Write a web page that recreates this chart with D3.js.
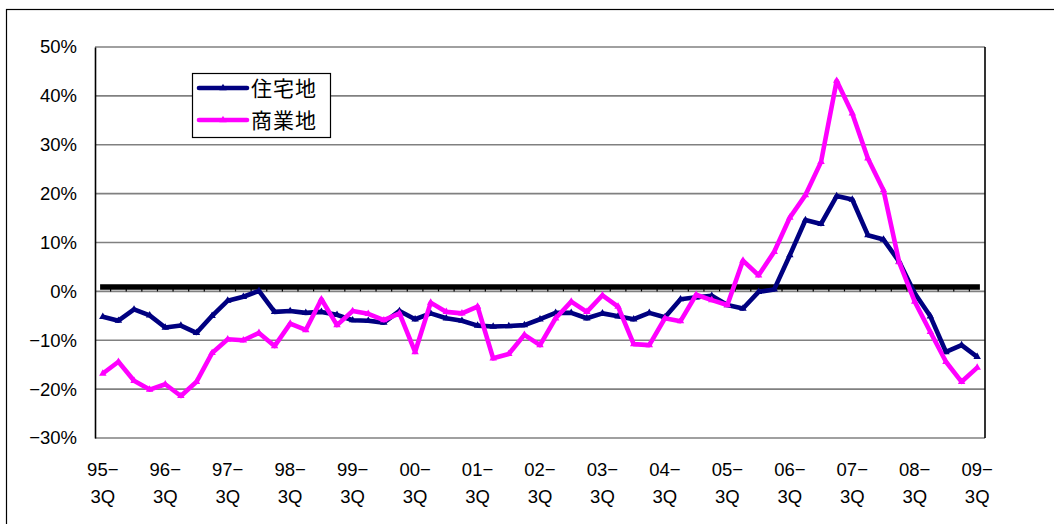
<!DOCTYPE html>
<html><head><meta charset="utf-8">
<script src="https://cdn.jsdelivr.net/npm/d3@7"></script>
<style>
html,body{margin:0;padding:0;background:#fff;}
svg text{font-family:"Liberation Sans",Arial,sans-serif;}
</style></head>
<body>
<svg id="chart" width="1054" height="524"></svg>
<script>
const years = ["95","96","97","98","99","00","01","02","03","04","05","06","07","08","09"];
const quarters = ["3Q","4Q","1Q","2Q"];
// categories 95-3Q ... 09-3Q (57 quarters)
const categories = [];
for (let y = 0; y < years.length; y++) {
  for (let q = 0; q < 4; q++) {
    if (y === years.length - 1 && q > 0) break;
    categories.push(years[y] + "-" + quarters[q]);
  }
}
const residential = [-5.2,-6.0,-3.7,-4.9,-7.4,-7.0,-8.5,-5.0,-1.9,-1.1,0.1,-4.2,-4.0,-4.4,-4.2,-4.8,-5.9,-6.0,-6.4,-4.0,-5.7,-4.5,-5.5,-6.0,-7.0,-7.2,-7.1,-6.9,-5.7,-4.4,-4.4,-5.5,-4.5,-5.1,-5.7,-4.4,-5.3,-1.6,-1.2,-0.9,-2.8,-3.5,-0.1,0.4,7.4,14.6,13.8,19.5,18.8,11.5,10.6,6.1,-0.4,-5.1,-12.4,-11.0,-13.4];
const commercial = [-16.8,-14.4,-18.3,-20.1,-19.0,-21.4,-18.5,-12.6,-9.8,-10.0,-8.5,-11.2,-6.6,-7.9,-1.6,-6.9,-4.0,-4.6,-5.9,-4.5,-12.4,-2.3,-4.2,-4.5,-3.1,-13.7,-12.8,-8.9,-11.0,-5.5,-2.1,-4.2,-0.8,-3.1,-10.8,-11.0,-5.5,-6.1,-0.7,-1.8,-2.8,6.3,3.3,8.1,15.1,19.7,26.5,43.1,36.4,27.2,20.7,6.0,-2.1,-8.3,-14.4,-18.5,-15.6];
const refLine = categories.map(() => 0.9);
const yTicks = [-30,-20,-10,0,10,20,30,40,50];
const seriesNames = ["住宅地","商業地"];
const colors = ["#000080","#ff00ff"];

const svg = d3.select("#chart");
const L = 95, R = 985, T = 47, B = 438;

// outer border
svg.append("rect").attr("x",6.5).attr("y",9.5).attr("width",1100).attr("height",600)
  .attr("fill","none").attr("stroke","#000").attr("stroke-width",1.2);

const x = d3.scaleBand().domain(categories).range([L, R]).padding(0);
const y = d3.scaleLinear().domain([-30, 50]).range([B, T]);
const cx = d => x(d) + x.bandwidth()/2;

// gridlines
svg.append("g").selectAll("line").data(yTicks).join("line")
  .attr("x1", L).attr("x2", R).attr("y1", d => y(d)).attr("y2", d => y(d))
  .attr("stroke", "#808080").attr("stroke-width", 1.6);

// y axis
const yAxis = d3.axisLeft(y).tickValues(yTicks).tickSize(0).tickPadding(18)
  .tickFormat(d => (d < 0 ? "\u2212" + Math.abs(d) : d) + "%");
const gy = svg.append("g").attr("transform", `translate(${L},0)`).call(yAxis);
gy.select(".domain").attr("stroke", "#000").attr("stroke-width", 1.6);
gy.selectAll("text").attr("font-size", 18.5).attr("fill", "#000")
  .attr("font-family", "'Liberation Sans', Arial, sans-serif");

// right border
svg.append("line").attr("x1", R).attr("x2", R).attr("y1", T).attr("y2", B)
  .attr("stroke", "#000").attr("stroke-width", 1.6);

// category ticks on zero line
const bounds = categories.slice(1).map(c => x(c));
svg.append("g").selectAll("line").data(bounds).join("line")
  .attr("x1", d => d).attr("x2", d => d).attr("y1", y(0)).attr("y2", y(0) - 3)
  .attr("stroke", "#000").attr("stroke-width", 1.2);

// x labels every 4 quarters
const labelCats = categories.filter((c, i) => i % 4 === 0);
const gx = svg.append("g");
labelCats.forEach(c => {
  const parts = c.split("-");
  const t = gx.append("text").attr("x", cx(c)).attr("text-anchor", "middle")
    .attr("font-size", 18.5).attr("fill", "#000");
  t.append("tspan").attr("x", cx(c)).attr("y", 476).text(parts[0] + "\u2212");
  t.append("tspan").attr("x", cx(c)).attr("y", 503).text(parts[1]);
});

// black reference line
const lineGen = arr => d3.line().x((d, i) => cx(categories[i])).y(d => y(d))(arr);
svg.append("path").attr("d", lineGen(refLine)).attr("fill", "none")
  .attr("stroke", "#000").attr("stroke-width", 5.4).attr("stroke-linecap", "square");

// series
[residential, commercial].forEach((arr, k) => {
  svg.append("path").attr("d", lineGen(arr)).attr("fill", "none")
    .attr("stroke", colors[k]).attr("stroke-width", 4.6).attr("stroke-linejoin", "round");
  svg.append("g").selectAll("path").data(arr).join("path")
    .attr("d", d3.symbol(d3.symbolTriangle, 24))
    .attr("transform", (d, i) => `translate(${cx(categories[i])},${y(d)})`)
    .attr("fill", colors[k]);
});

// legend
const lg = svg.append("g");
lg.append("rect").attr("x", 192.5).attr("y", 73.5).attr("width", 138).attr("height", 64)
  .attr("fill", "#fff").attr("stroke", "#000").attr("stroke-width", 1.2);
seriesNames.forEach((n, k) => {
  const yy = 88 + k * 32;
  lg.append("line").attr("x1", 199).attr("x2", 247).attr("y1", yy).attr("y2", yy)
    .attr("stroke", colors[k]).attr("stroke-width", 4.6).attr("stroke-linecap", "round");
  lg.append("path").attr("d", d3.symbol(d3.symbolTriangle, 24)())
    .attr("transform", `translate(223,${yy})`).attr("fill", colors[k]);
  lg.append("text").attr("x", 251).attr("y", yy + 8).attr("font-size", 21)
    .attr("letter-spacing", 1)
    .style("font-family", "'Noto Sans CJK JP', sans-serif").attr("fill", "#000").text(n);
});
</script>
</body></html>
